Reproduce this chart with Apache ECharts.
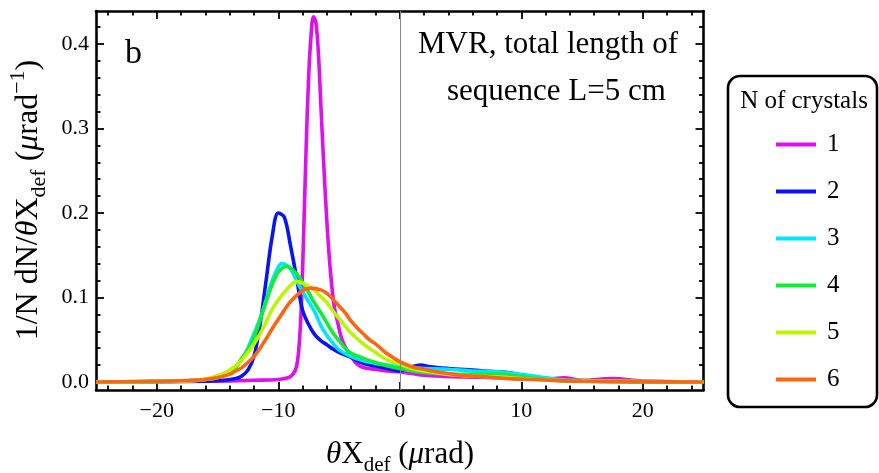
<!DOCTYPE html>
<html>
<head>
<meta charset="utf-8">
<script src="https://cdn.jsdelivr.net/npm/echarts@6/dist/echarts.min.js"></script>
<style>
    html, body { margin: 0; padding: 0; background: #fff; }
    #chart { width: 879px; height: 473px; }
</style>
</head>
<body>
<div id="chart"></div>
<script>
    // N of crystals = 1
    var x1 = [-25, -15, -12, -10, -9.2, -8.8, -8.5, -8.3, -8.1, -7.9, -7.7, -7.5, -7.3, -7.1, -6.9, -6.7, -6.5, -6.3, -6.0, -5.7, -5.4, -5.1, -4.8, -4.4, -4.0, -3.5, -3.0, -2.0, -1.0, 0, 1, 2, 3, 5, 8, 10, 12, 13.5, 15, 17.5, 20, 25];
    var y1 = [0, 0.001, 0.002, 0.003, 0.005, 0.009, 0.018, 0.04, 0.09, 0.18, 0.28, 0.36, 0.41, 0.432, 0.425, 0.39, 0.33, 0.27, 0.19, 0.13, 0.09, 0.07, 0.052, 0.039, 0.03, 0.021, 0.017, 0.015, 0.013, 0.012, 0.01, 0.008, 0.007, 0.006, 0.005, 0.004, 0.003, 0.005, 0.002, 0.004, 0.001, 0];
    // N = 2
    var x2 = [-25, -16, -14.5, -13.5, -13, -12.5, -12, -11.5, -11, -10.5, -10, -9.5, -9, -8.5, -8, -7.5, -7, -6.5, -6, -5.5, -5, -4, -3, -2, -1, 0, 1, 1.7, 2.5, 4, 6, 8, 9, 10, 11, 12, 13, 14, 16, 25];
    var y2 = [0, 0.001, 0.002, 0.004, 0.007, 0.014, 0.03, 0.068, 0.12, 0.172, 0.2, 0.195, 0.162, 0.124, 0.085, 0.068, 0.056, 0.049, 0.044, 0.039, 0.035, 0.029, 0.022, 0.019, 0.016, 0.013, 0.018, 0.02, 0.018, 0.016, 0.014, 0.012, 0.011, 0.008, 0.006, 0.004, 0.003, 0.002, 0.001, 0];
    // N = 3
    var x3 = [-25, -18, -16, -15, -14, -13.5, -13, -12.5, -12, -11.5, -11, -10.5, -10, -9.7, -9, -8.5, -8, -7.5, -7, -6.5, -6, -5.5, -5, -4, -3, -2, -1, 0, 2, 4, 6, 8, 10, 12, 14, 25];
    var y3 = [0, 0.001, 0.003, 0.005, 0.012, 0.018, 0.027, 0.04, 0.057, 0.075, 0.097, 0.12, 0.136, 0.14, 0.134, 0.12, 0.107, 0.095, 0.083, 0.067, 0.055, 0.046, 0.038, 0.03, 0.025, 0.022, 0.02, 0.018, 0.016, 0.015, 0.013, 0.012, 0.009, 0.005, 0.002, 0];
    // N = 4
    var x4 = [-25, -18, -16, -15, -14, -13.5, -13, -12.5, -12, -11.5, -11, -10.5, -10, -9.3, -8.5, -8, -7.5, -7, -6.5, -6, -5.5, -5, -4.5, -4, -3, -2, -1, 0, 1.5, 3, 5, 8, 10, 12, 14, 25];
    var y4 = [0, 0.001, 0.003, 0.006, 0.011, 0.017, 0.028, 0.038, 0.053, 0.073, 0.095, 0.115, 0.13, 0.137, 0.128, 0.118, 0.106, 0.093, 0.082, 0.07, 0.058, 0.049, 0.04, 0.034, 0.028, 0.023, 0.019, 0.016, 0.012, 0.01, 0.009, 0.009, 0.006, 0.003, 0.001, 0];
    // N = 5
    var x5 = [-25, -18, -16.5, -15.5, -14.5, -14, -13.5, -13, -12.5, -12, -11.5, -11, -10.5, -10, -9.5, -9, -8.5, -8, -7.5, -7, -6.5, -6, -5.5, -5, -4.5, -4, -3, -2, -1, 0, 1, 2, 4, 6, 8, 10, 13, 25];
    var y5 = [0, 0.001, 0.002, 0.005, 0.01, 0.014, 0.019, 0.026, 0.035, 0.045, 0.057, 0.071, 0.086, 0.097, 0.106, 0.114, 0.119, 0.117, 0.113, 0.108, 0.101, 0.094, 0.084, 0.075, 0.066, 0.058, 0.045, 0.035, 0.026, 0.021, 0.016, 0.013, 0.009, 0.007, 0.006, 0.004, 0.002, 0];
    // N = 6
    var x6 = [-25, -19, -17, -16, -15, -14, -13.5, -13, -12.5, -12, -11.5, -11, -10.5, -10, -9.5, -9, -8.5, -8, -7.3, -6.5, -6, -5.5, -5, -4.5, -4, -3.5, -3, -2.5, -2, -1.5, -1, 0, 1, 2, 3, 4, 5, 7, 9, 11, 15, 25];
    var y6 = [0, 0.001, 0.002, 0.003, 0.005, 0.009, 0.013, 0.017, 0.023, 0.03, 0.04, 0.051, 0.063, 0.074, 0.085, 0.095, 0.102, 0.108, 0.111, 0.109, 0.105, 0.098, 0.09, 0.082, 0.072, 0.064, 0.057, 0.05, 0.045, 0.039, 0.033, 0.024, 0.018, 0.015, 0.012, 0.01, 0.008, 0.006, 0.004, 0.003, 0.001, 0];

    var seriesNames = ['1', '2', '3', '4', '5', '6'];
    var colors = ['#dd11ee', '#0a14f0', '#00e5ff', '#10ee33', '#bbf500', '#ff6411'];

    var xMajorTicks = [-20, -10, 0, 10, 20];
    var xMinorTicks = [-24, -22, -18, -16, -14, -12, -8, -6, -4, -2, 2, 4, 6, 8, 12, 14, 16, 18, 22, 24];
    var yMajorTicks = [0, 0.1, 0.2, 0.3, 0.4];
    var yMinorTicks = [0.02, 0.04, 0.06, 0.08, 0.12, 0.14, 0.16, 0.18, 0.22, 0.24, 0.26, 0.28, 0.32, 0.34, 0.36, 0.38, 0.42];

    var FONT = 'Liberation Serif';
    var xMin = -25, xMax = 25, yMin = -0.0095, yMax = 0.439;

    function pairs(xs, ys) {
        return xs.map(function (x, i) { return [x, ys[i]]; });
    }

    // frame axes: major ticks (with line), minor ticks (no line)
    function axis(pos, ticks, len, withLine, withLabels, isX) {
        return {
            type: 'value',
            position: pos,
            min: isX ? xMin : yMin,
            max: isX ? xMax : yMax,
            axisLine: { show: withLine, onZero: false, lineStyle: { color: '#000', width: 2.6 } },
            axisTick: { show: true, inside: true, length: len, customValues: ticks, lineStyle: { color: '#000', width: 1.8 } },
            axisLabel: withLabels ? {
                show: true,
                customValues: ticks,
                fontFamily: FONT,
                fontSize: 22,
                color: '#000',
                margin: isX ? 10 : 7,
                formatter: isX ? function (v) { return v < 0 ? '\u2212' + Math.abs(v) : String(v); }
                               : function (v) { return v.toFixed(1); }
            } : { show: false },
            splitLine: { show: false }
        };
    }

    var series = [pairs(x1, y1), pairs(x2, y2), pairs(x3, y3), pairs(x4, y4), pairs(x5, y5), pairs(x6, y6)].map(function (d, i) {
        var s = {
            name: seriesNames[i],
            type: 'line',
            data: d,
            smooth: 0.35,
            showSymbol: false,
            symbol: 'none',
            lineStyle: { color: colors[i], width: 3.6 },
            itemStyle: { color: colors[i] },
            emphasis: { disabled: true }
        };
        if (i === 0) {
            s.markLine = {
                silent: true,
                symbol: ['none', 'none'],
                label: { show: false },
                lineStyle: { color: '#888', width: 1, type: 'solid' },
                data: [{ xAxis: 0 }]
            };
        }
        return s;
    });

    var option = {
        animation: false,
        backgroundColor: '#fff',
        grid: { left: 96, top: 11, right: 175.5, bottom: 83, containLabel: false },
        xAxis: [
            axis('bottom', xMajorTicks, 8, true, true, true),
            axis('bottom', xMinorTicks, 4.5, false, false, true),
            axis('top', xMajorTicks, 8, true, false, true),
            axis('top', xMinorTicks, 4.5, false, false, true)
        ],
        yAxis: [
            axis('left', yMajorTicks, 8, true, true, false),
            axis('left', yMinorTicks, 4.5, false, false, false),
            axis('right', yMajorTicks, 8, true, false, false),
            axis('right', yMinorTicks, 4.5, false, false, false)
        ],
        legend: {
            orient: 'vertical',
            left: 771,
            top: 127,
            itemWidth: 40,
            itemHeight: 4,
            itemGap: 22,
            icon: 'rect',
            selectedMode: false,
            textStyle: { fontFamily: FONT, fontSize: 25, color: '#000', lineHeight: 25, padding: [0, 0, 0, 6] },
            data: seriesNames
        },
        graphic: [
            {
                type: 'rect',
                shape: { x: 728, y: 76, width: 149, height: 331, r: 12 },
                style: { fill: 'none', stroke: '#000', lineWidth: 2.6 }
            },
            {
                type: 'text', x: 804, y: 101,
                style: { text: 'N of crystals', fontFamily: FONT, fontSize: 25, fill: '#000', align: 'center', verticalAlign: 'middle' }
            },
            {
                type: 'text', x: 125, y: 54,
                style: { text: 'b', fontFamily: FONT, fontSize: 34, fill: '#000', align: 'left', verticalAlign: 'middle' }
            },
            {
                type: 'text', x: 418, y: 45,
                style: { text: 'MVR, total length of', fontFamily: FONT, fontSize: 31, fill: '#000', align: 'left', verticalAlign: 'middle' }
            },
            {
                type: 'text', x: 447, y: 92,
                style: { text: 'sequence L=5 cm', fontFamily: FONT, fontSize: 31, fill: '#000', align: 'left', verticalAlign: 'middle' }
            },
            {
                type: 'text', x: 400, y: 455,
                style: {
                    text: '{it|θ}X{sub|def} ({it|μ}rad)',
                    fontFamily: FONT, fontSize: 31, lineHeight: 42, fill: '#000',
                    align: 'center', verticalAlign: 'middle',
                    rich: {
                        it: { fontFamily: FONT, fontSize: 31, fontStyle: 'italic', lineHeight: 42 },
                        sub: { fontFamily: FONT, fontSize: 21, verticalAlign: 'bottom' }
                    }
                }
            },
            {
                type: 'text', x: 29, y: 200, rotation: Math.PI / 2,
                style: {
                    text: '1/N dN/{it|θ}X{sub|def} ({it|μ}rad{sup|\u22121})',
                    fontFamily: FONT, fontSize: 32, lineHeight: 43, fill: '#000',
                    align: 'center', verticalAlign: 'middle',
                    rich: {
                        it: { fontFamily: FONT, fontSize: 32, fontStyle: 'italic', lineHeight: 43 },
                        sub: { fontFamily: FONT, fontSize: 22, verticalAlign: 'bottom' },
                        sup: { fontFamily: FONT, fontSize: 22, verticalAlign: 'top' }
                    }
                }
            }
        ],
        series: series
    };

    var myChart = echarts.init(document.getElementById('chart'));
    myChart.setOption(option);
</script>
</body>
</html>
